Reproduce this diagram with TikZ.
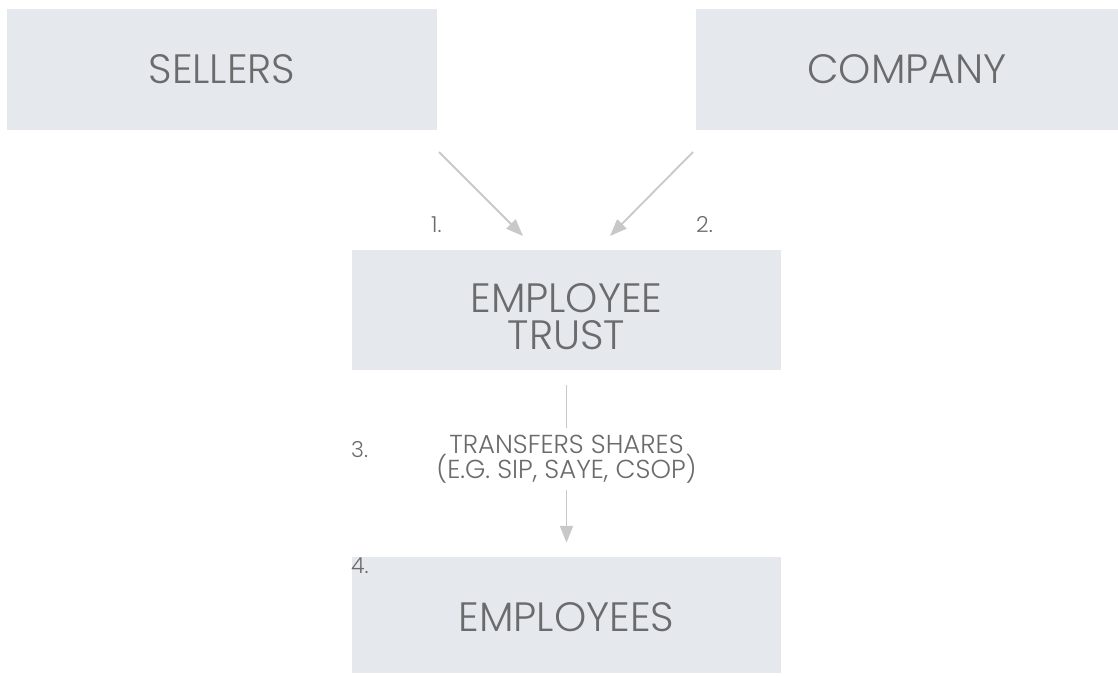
\documentclass[tikz,border=0pt]{standalone}
\usepackage{fontspec}
\setmainfont{Poppins Light}
\usetikzlibrary{arrows.meta}
\definecolor{boxfill}{HTML}{E5E9ED}
\definecolor{txt}{HTML}{6A6B6D}
\definecolor{arr}{HTML}{C8C8C8}
\begin{document}
\begin{tikzpicture}[x=1pt,y=-1pt,
  box/.style={draw=none,fill=boxfill,inner sep=0pt,text=txt,align=center,font=\fontsize{41}{37}\selectfont},
  boxtext/.style={inner sep=0pt,text=txt,align=center,font=\fontsize{41}{37}\selectfont},
  num/.style={text=txt,inner sep=0pt,anchor=base west,font=\fontsize{22}{24}\selectfont},
  conn/.style={draw=arr,line width=1.8pt,-{Triangle[length=17pt,width=13pt]}},
  mid/.style={text=txt,fill=white,inner xsep=4pt,inner ysep=7pt,align=center,font=\fontsize{26}{21}\selectfont}]
\useasboundingbox (0,0) rectangle (1118,675);
\node[box,minimum width=430pt,minimum height=121pt] (sellers) at (222,69.5) {SELLERS};
\node[box,minimum width=422pt,minimum height=121pt] (company) at (907,69.5) {COMPANY};
\node[box,minimum width=429pt,minimum height=120pt] (trust) at (566.5,310) {};
\node[boxtext] (trusttext) at (566.5,316.5) {EMPLOYEE\\TRUST};
\node[box,minimum width=429pt,minimum height=116pt] (employees) at (566.5,615) {};
\node[boxtext] (emptext) at (566.5,617.5) {EMPLOYEES};
\coordinate (s1) at (439,152);
\coordinate (e1) at (523,236);
\coordinate (s2) at (693,152);
\coordinate (e2) at (610,236);
\draw[conn] (s1) -- (e1);
\draw[conn] (s2) -- (e2);
\draw[conn,shorten <=15pt,shorten >=14pt] (trust.south) -- (employees.north);
\node[mid] (transfers) at (566.5,459) {TRANSFERS SHARES\\(E.G. SIP, SAYE, CSOP)};
\node[num] (n1) at (431,232) {1.};
\node[num] (n2) at (696,232) {2.};
\node[num] (n3) at (351,457) {3.};
\node[num] (n4) at (351,573) {4.};
\end{tikzpicture}
\end{document}
